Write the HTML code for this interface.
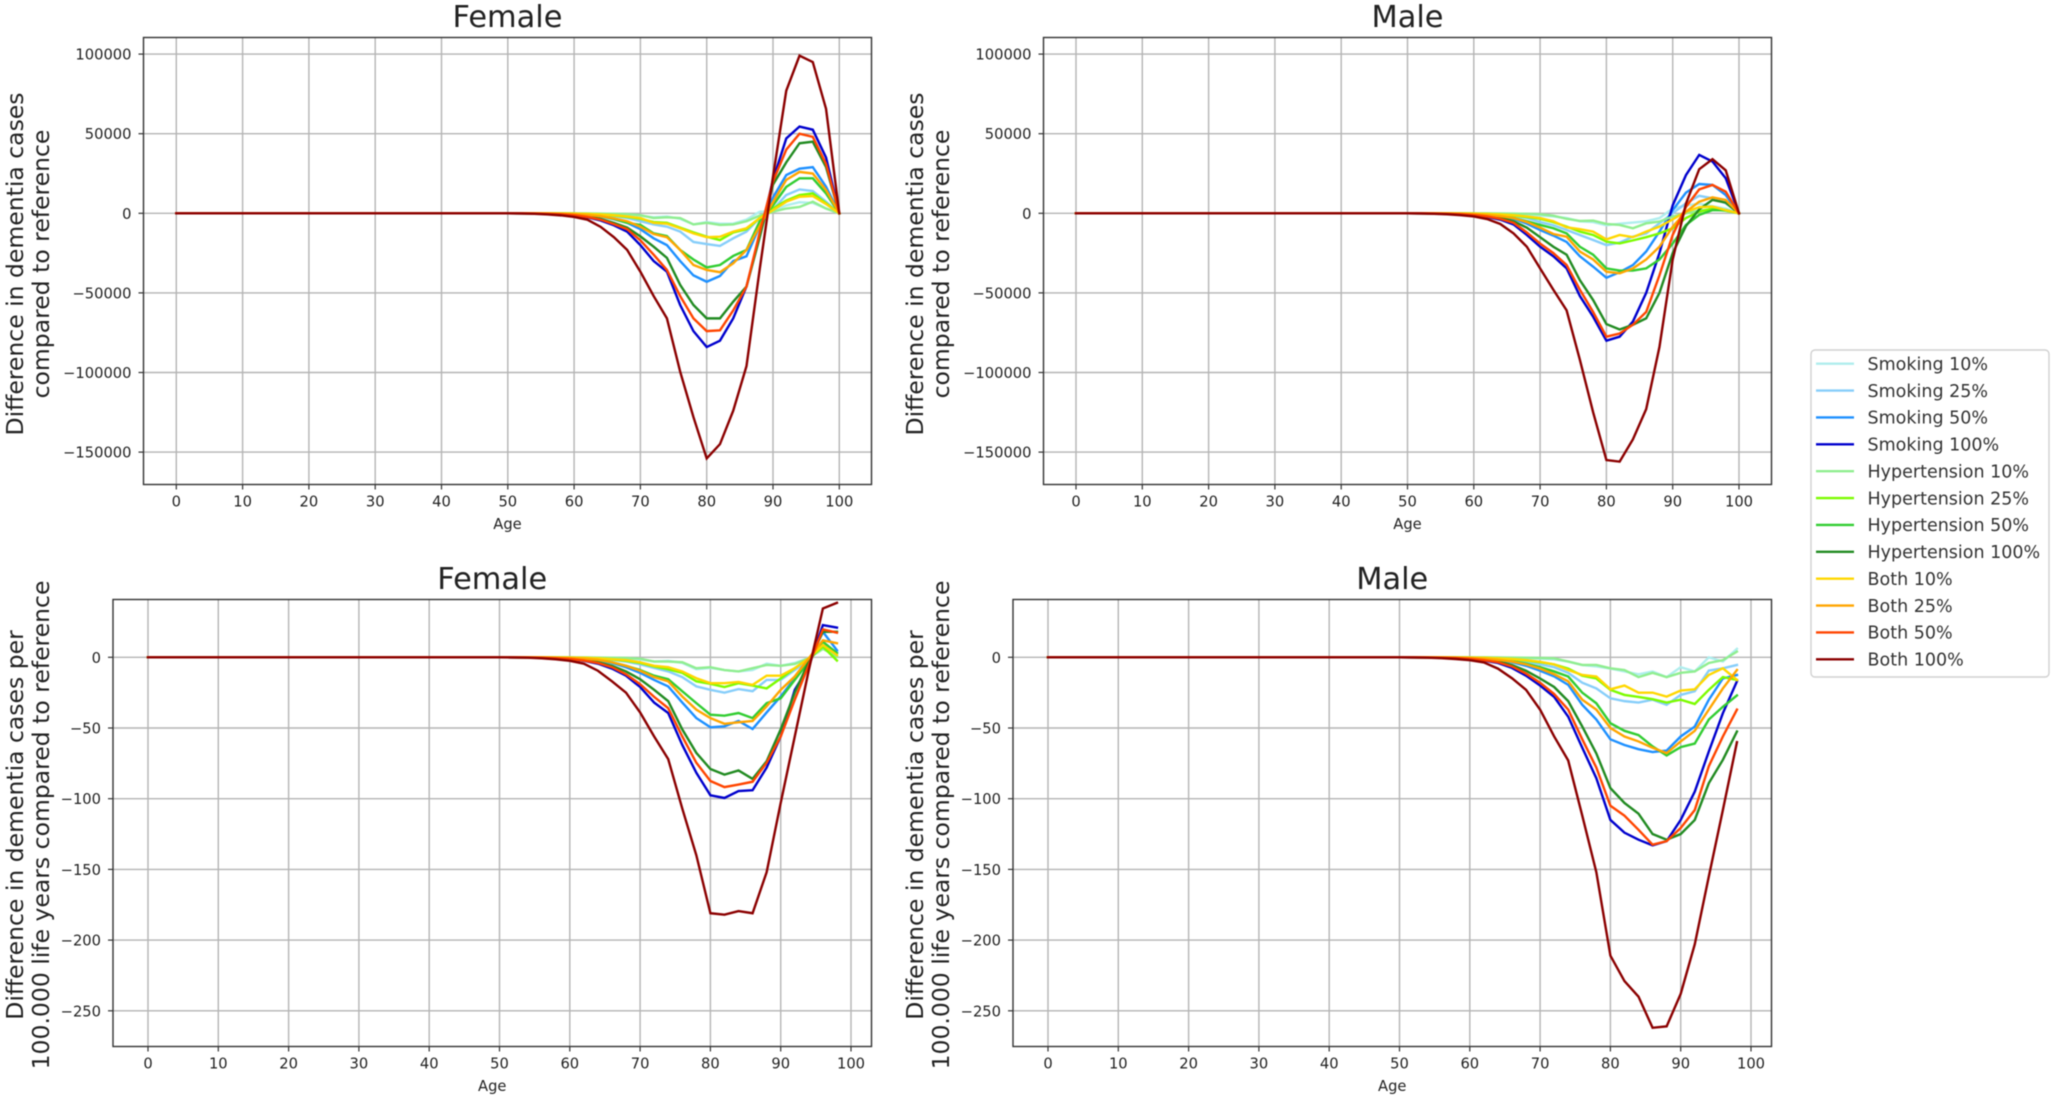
<!DOCTYPE html>
<html lang="en">
<head>
<meta charset="utf-8">
<title>Dementia cases compared to reference</title>
<style>
html,body{margin:0;padding:0;background:#fff;width:2056px;height:1098px;overflow:hidden}
svg{display:block;filter:blur(0.5px)}
text{font-family:"DejaVu Sans","Liberation Sans",sans-serif;fill:#222}
</style>
</head>
<body>
<svg id="figure" xmlns="http://www.w3.org/2000/svg" width="2056" height="1098" viewBox="0 0 2056 1098"></svg>
<script>
// ---------- shared categories and labels ----------
const agesTotal = [0,50,52,54,56,58,60,62,64,66,68,70,72,74,76,78,80,82,84,86,88,90,92,94,96,98,100];
const agesRate  = [0,50,52,54,56,58,60,62,64,66,68,70,72,74,76,78,80,82,84,86,88,90,92,94,96,98];
const xTickValues = [0,10,20,30,40,50,60,70,80,90,100];
const yTicksTotal = [100000,50000,0,-50000,-100000,-150000];
const yTicksRate  = [0,-50,-100,-150,-200,-250];
const seriesLabels = ["Smoking 10%","Smoking 25%","Smoking 50%","Smoking 100%","Hypertension 10%","Hypertension 25%","Hypertension 50%","Hypertension 100%","Both 10%","Both 25%","Both 50%","Both 100%"];
const seriesColors = ["#afeeee","#87cefa","#1e90ff","#0000cd","#90ee90","#7cfc00","#32cd32","#228b22","#ffd700","#ffa500","#ff4500","#8b0000"];
const totalUnit = 1000; // total-panel series are written in thousands of cases
const rateUnit = 1;

// ---------- Female, total difference (thousands of cases) ----------
const femaleTotalSmoking10 = [0,0,0,0,0,-.05,-.1,-.15,-.25,-.4,-.7,-1.5,-2.5,-2,-3.5,-7,-5.5,-6.5,-6.5,-4,1,1.3,5,7,6.5,3,0];
const femaleTotalSmoking25 = [0,0,0,-.02,-.05,-.15,-.3,-.5,-1,-1.8,-3,-5,-7,-8.4,-11.5,-18,-19.3,-20.5,-15.7,-11.5,-3,2.5,11.5,15,14,7.3,0];
const femaleTotalSmoking50 = [0,0,-.02,-.05,-.1,-.3,-.6,-1.1,-2,-3.7,-6,-10,-15.7,-20,-30,-39,-43,-39.4,-30,-27,-8,10,24,28,29,16.7,0];
const femaleTotalSmoking100 = [0,0,-.05,-.1,-.3,-.7,-1.3,-2.5,-4.5,-7.5,-11.5,-20,-30,-36.7,-57.6,-74,-84,-80,-66,-46,-14,21,47,54.5,52.5,35,0];
const femaleTotalHyper10 = [0,0,0,0,0,-.05,-.05,-.1,-.2,-.3,-.5,-1.2,-3,-2.5,-3,-7,-6,-7.3,-7,-5,-1.5,1,3,4,7.3,3,0];
const femaleTotalHyper25 = [0,0,0,-.02,-.05,-.1,-.2,-.4,-.8,-1.4,-2.3,-3.5,-5.5,-6,-9,-12,-14.7,-16.8,-12,-10,-3,3,8,11.5,12.5,6.3,0];
const femaleTotalHyper50 = [0,0,-.02,-.05,-.1,-.25,-.5,-1,-1.8,-3.5,-6,-7.3,-12.6,-14.3,-23,-29,-34,-32.5,-26.8,-23,-5,5,16.6,22,22,12.5,0];
const femaleTotalHyper100 = [0,0,-.05,-.1,-.2,-.5,-1,-2,-3.5,-6,-9,-14.5,-21,-28,-45,-57.6,-66,-66,-55.5,-46,-15,18,32,44,45,29,0];
const femaleTotalBoth10 = [0,0,0,0,-.05,-.1,-.2,-.4,-.7,-1.2,-2,-3,-6,-6.5,-9.4,-12.6,-15,-14.7,-11.5,-9.4,-3,2,7.3,10.4,10.8,5.8,0];
const femaleTotalBoth25 = [0,0,-.02,-.05,-.1,-.3,-.5,-1,-1.8,-3.2,-5,-8.5,-13,-15,-23,-32.5,-35.6,-37,-31.4,-23,-8,7,21,26,25,14.6,0];
const femaleTotalBoth50 = [0,0,-.05,-.1,-.3,-.6,-1.2,-2.3,-4,-6.8,-10,-17,-26,-35.6,-52,-66,-74,-73.5,-61,-46,-12,20,40,50,48,31,0];
const femaleTotalBoth100 = [0,0,-.1,-.3,-.7,-1.3,-2.3,-4,-8.5,-15,-23,-36.7,-52,-66,-99.5,-128,-154,-145,-124,-96,-35,23,77,99,95,65.6,0];

// ---------- Male, total difference (thousands of cases) ----------
const maleTotalSmoking10 = [0,0,0,0,0,-.05,-.1,-.15,-.3,-.5,-.8,-1.4,-2,-3,-5,-5.5,-7.5,-6.5,-5.8,-5,-3,3,5,6,4.5,3,0];
const maleTotalSmoking25 = [0,0,0,-.02,-.05,-.15,-.3,-.5,-1,-1.7,-3,-5.5,-7.5,-10.5,-13.6,-16.8,-20,-18.4,-14.7,-12.6,-6.3,0,6.3,11,9.4,6.3,0];
const maleTotalSmoking50 = [0,0,-.02,-.05,-.1,-.3,-.6,-1.1,-2,-3.5,-6.5,-10.5,-14,-18,-27,-33.5,-40.5,-37,-32.5,-24,-11.5,2,13,18.4,17.8,11.5,0];
const maleTotalSmoking100 = [0,0,-.05,-.1,-.3,-.6,-1.2,-2.3,-4,-7,-13.6,-21,-27,-34.6,-52,-65,-80,-77.5,-68,-50,-25,5,24,36.7,32.5,22,0];
const maleTotalHyper10 = [0,0,0,0,0,-.02,-.03,-.05,-.1,-.2,-.3,-.6,-1.5,-3.5,-4.8,-4.6,-6.7,-7.3,-9.4,-6.3,-5.2,-2,0,1.7,2.5,1.5,0];
const maleTotalHyper25 = [0,0,0,-.02,-.05,-.1,-.2,-.4,-.8,-1.4,-2.4,-3.5,-5.5,-8.4,-11.5,-13.6,-17.8,-18.9,-17,-15,-12.6,-9.4,-3,1,3,1.7,0];
const maleTotalHyper50 = [0,0,-.02,-.05,-.1,-.25,-.5,-1,-1.8,-3,-5,-7.3,-9.4,-12.6,-21,-26,-34.6,-36,-36,-34.6,-29,-19,-7.3,-1,2,2,0];
const maleTotalHyper100 = [0,0,-.05,-.1,-.2,-.4,-.9,-1.7,-3,-5,-9,-15,-21,-26,-42,-54.5,-69.6,-73,-70,-66,-50,-25,-8,2.5,8.4,6.7,0];
const maleTotalBoth10 = [0,0,0,0,-.05,-.1,-.2,-.4,-.7,-1.2,-2,-3,-5,-8.8,-10,-11.5,-16.4,-13.6,-15,-11.5,-8.4,-3.8,1,3.8,4.2,2,0];
const maleTotalBoth25 = [0,0,-.02,-.05,-.1,-.3,-.5,-1,-1.8,-3,-5.5,-9,-13,-14.7,-24,-29,-36.7,-37.7,-34.6,-29,-21,-8.4,1,7.3,10,8.4,0];
const maleTotalBoth50 = [0,0,-.05,-.1,-.3,-.5,-1.1,-2,-3.5,-6,-12,-19,-25,-32.5,-48,-62,-77.5,-75.5,-70,-62,-39,-13.6,4,15,17.8,13.6,0];
const maleTotalBoth100 = [0,0,-.1,-.3,-.6,-1.2,-2,-3.6,-6.7,-12.6,-21,-34.6,-48,-61,-92,-125,-155,-156,-142,-123,-84,-29,6,27.7,34,27,0];

// ---------- Female, per 100.000 life years ----------
const femaleRateSmoking10 = [0,0,0,0,0,-.05,-.1,-.15,-.3,-.5,-.8,-1.5,-3,-2.5,-4,-8.5,-7.5,-9,-10,-9,-4.5,-6,-4,-.5,7,3];
const femaleRateSmoking25 = [0,0,0,-.02,-.05,-.15,-.3,-.5,-1,-1.8,-3,-5,-7.5,-10,-14,-20.6,-23,-25,-22.5,-24,-16,-16,-9,-2,8.7,4];
const femaleRateSmoking50 = [0,0,-.02,-.05,-.1,-.3,-.6,-1.1,-2,-4,-7,-11,-16,-20.6,-32,-43,-49.5,-48.8,-45,-50.7,-39,-27.7,-14.8,-3,18,5];
const femaleRateSmoking100 = [0,0,-.05,-.1,-.3,-.7,-1.3,-2.5,-4.5,-8,-13,-21,-32,-39.4,-62,-81.7,-97.6,-99.5,-94.6,-94,-78,-56,-23,-6.6,22.8,21];
const femaleRateHyper10 = [0,0,0,0,0,-.02,-.05,-.1,-.2,-.3,-.5,-1,-3,-3,-3.5,-7.7,-7,-9,-10,-7.7,-5.4,-6,-4.7,-.7,6,.5];
const femaleRateHyper25 = [0,0,0,-.02,-.05,-.1,-.2,-.4,-.8,-1.5,-2.5,-4,-6.5,-8.5,-11,-17,-18.8,-21,-18.3,-20,-22,-15,-7.7,-.7,7.5,-2.3];
const femaleRateHyper50 = [0,0,-.02,-.05,-.1,-.25,-.5,-1,-1.8,-3.5,-6,-9,-13,-15.5,-24,-32.4,-40.6,-41.3,-39.4,-43,-32.4,-29,-16,-3,11,3];
const femaleRateHyper100 = [0,0,-.05,-.1,-.2,-.5,-1,-2,-3.5,-6,-10,-15.5,-23,-31,-51,-67.6,-79,-83,-80,-86,-73.5,-51,-25,-3,18,18];
const femaleRateBoth10 = [0,0,0,0,-.05,-.1,-.2,-.4,-.7,-1.3,-2,-3.5,-6,-7,-10,-14.8,-18.3,-18.3,-17.4,-19.5,-13,-13,-7.7,-.7,8.7,1.6];
const femaleRateBoth25 = [0,0,-.02,-.05,-.1,-.3,-.5,-1,-1.8,-3.5,-6,-9.5,-14,-17,-27.7,-37,-43,-47,-46,-45,-34.7,-23,-13.6,-.7,12,10];
const femaleRateBoth50 = [0,0,-.05,-.1,-.3,-.6,-1.2,-2.3,-4,-7,-12,-19,-28,-36,-56,-74.6,-87.5,-91.8,-90,-88,-74.6,-56,-30,-5.4,19.7,17.4];
const femaleRateBoth100 = [0,0,-.1,-.3,-.7,-1.4,-2.5,-4.5,-9.5,-17,-25,-39,-56,-72,-107,-140,-181,-182,-179.5,-181,-152,-103,-56,-9,34.5,38.5];

// ---------- Male, per 100.000 life years ----------
const maleRateSmoking10 = [0,0,0,0,0,-.02,-.05,-.1,-.2,-.4,-.7,-1,-1.5,-3,-5.5,-6.5,-8,-10,-12,-10,-14,-7,-10,0,-3,6];
const maleRateSmoking25 = [0,0,0,-.02,-.05,-.15,-.3,-.5,-1,-1.7,-3,-5,-7,-11,-18,-22,-29,-31,-32,-30,-33.6,-26.6,-24,-9.4,-7.8,-5.4];
const maleRateSmoking50 = [0,0,-.02,-.05,-.1,-.3,-.6,-1.1,-2,-3.5,-6,-9.5,-13.5,-19.5,-33.6,-44,-58,-62,-65,-67,-66,-56,-49,-30,-15,-12.5];
const maleRateSmoking100 = [0,0,-.05,-.1,-.3,-.6,-1.2,-2.3,-4,-7.5,-13,-20,-28,-42,-64,-85.5,-115,-124,-129,-133,-130,-115,-95,-66.6,-39.5,-17];
const maleRateHyper10 = [0,0,0,0,0,-.01,-.02,-.05,-.1,-.2,-.3,-.5,-.7,-3,-5.4,-5.4,-7.8,-9,-14,-11,-14,-11,-10,-4,-2,4];
const maleRateHyper25 = [0,0,0,-.02,-.05,-.1,-.2,-.4,-.8,-1.4,-2.3,-3.5,-5,-8,-13,-15,-23,-26.6,-28,-29.6,-32,-30,-33,-23,-14,-16];
const maleRateHyper50 = [0,0,-.02,-.05,-.1,-.25,-.5,-.9,-1.6,-2.8,-4.5,-7,-10,-13.6,-25,-32.5,-46.6,-52,-55,-63,-69.4,-63.5,-61,-44,-35,-27];
const maleRateHyper100 = [0,0,-.05,-.1,-.2,-.4,-.9,-1.7,-3,-5.5,-9.5,-15,-21,-31,-49,-68,-92.5,-103,-110.6,-125,-129,-125,-115,-89,-72.5,-52.5];
const maleRateBoth10 = [0,0,0,0,-.05,-.1,-.2,-.4,-.7,-1.2,-2,-3.2,-5,-9,-12.5,-13.6,-22.6,-20,-25,-25,-27.8,-23.5,-22.6,-12.5,-7.8,-16];
const maleRateBoth25 = [0,0,-.02,-.05,-.1,-.3,-.5,-1,-1.8,-3,-5,-8,-12,-17,-30,-37,-50,-56,-59.5,-64,-67.8,-59.5,-52,-37,-22,-9];
const maleRateBoth50 = [0,0,-.05,-.1,-.3,-.5,-1.1,-2,-3.5,-6.5,-11.5,-18,-26,-37,-58,-78,-105,-112,-122,-132.5,-130,-120.7,-108,-77,-56,-37];
const maleRateBoth100 = [0,0,-.1,-.3,-.6,-1.2,-2,-3.6,-8,-14.8,-23,-37,-56,-73,-112,-152,-211,-229,-240,-262,-261,-238,-203,-155,-108,-60];

const femaleTotalSeries = [femaleTotalSmoking10,femaleTotalSmoking25,femaleTotalSmoking50,femaleTotalSmoking100,femaleTotalHyper10,femaleTotalHyper25,femaleTotalHyper50,femaleTotalHyper100,femaleTotalBoth10,femaleTotalBoth25,femaleTotalBoth50,femaleTotalBoth100];
const maleTotalSeries = [maleTotalSmoking10,maleTotalSmoking25,maleTotalSmoking50,maleTotalSmoking100,maleTotalHyper10,maleTotalHyper25,maleTotalHyper50,maleTotalHyper100,maleTotalBoth10,maleTotalBoth25,maleTotalBoth50,maleTotalBoth100];
const femaleRateSeries = [femaleRateSmoking10,femaleRateSmoking25,femaleRateSmoking50,femaleRateSmoking100,femaleRateHyper10,femaleRateHyper25,femaleRateHyper50,femaleRateHyper100,femaleRateBoth10,femaleRateBoth25,femaleRateBoth50,femaleRateBoth100];
const maleRateSeries = [maleRateSmoking10,maleRateSmoking25,maleRateSmoking50,maleRateSmoking100,maleRateHyper10,maleRateHyper25,maleRateHyper50,maleRateHyper100,maleRateBoth10,maleRateBoth25,maleRateBoth50,maleRateBoth100];

const svg = document.getElementById('figure');
const NS = 'http://www.w3.org/2000/svg';

function make(parent, tag, attrs, content) {
  const el = document.createElementNS(NS, tag);
  for (const k in attrs) el.setAttribute(k, attrs[k]);
  if (content !== undefined) el.textContent = content;
  parent.appendChild(el);
  return el;
}
function slug(s) {
  return s.toLowerCase().replace('%', '').replace(/\s+/g, '-');
}
function fmtTick(v) {
  return v < 0 ? '\u2212' + Math.abs(v) : String(v);
}

function drawPanel(cfg) {
  const g = make(svg, 'g', {});
  
  

  // axis functions: data value -> pixel
  const xScale = v => cfg.x0 + v * cfg.xPerUnit;
  const yScale = v => cfg.y0 - v * cfg.yPerUnit;

  // gridlines and ticks
  cfg.xTicks.forEach(v => {
    const px = xScale(v);
    const grid = make(g, 'line', {x1:px, x2:px, y1:cfg.top, y2:cfg.bottom, stroke:'#b4b4b4', 'stroke-width':1.4});
    
    
    const tick = make(g, 'line', {x1:px, x2:px, y1:cfg.bottom, y2:cfg.bottom + 5, stroke:'#333', 'stroke-width':1.2});
    
    
    const label = make(g, 'text', {x:px, y:cfg.bottom + 17.5, 'text-anchor':'middle', 'dominant-baseline':'central', 'font-size':14.7}, fmtTick(v));
    
    
  });
  cfg.yTicks.forEach(v => {
    const py = yScale(v);
    const grid = make(g, 'line', {x1:cfg.left, x2:cfg.right, y1:py, y2:py, stroke:'#b4b4b4', 'stroke-width':1.4});
    
    
    const tick = make(g, 'line', {x1:cfg.left - 5, x2:cfg.left, y1:py, y2:py, stroke:'#333', 'stroke-width':1.2});
    
    
    const label = make(g, 'text', {x:cfg.left - 12, y:py + 1, 'text-anchor':'end', 'dominant-baseline':'central', 'font-size':14.7}, fmtTick(v));
    
    
  });

  // series, drawn from the data arrays through the axis functions
  cfg.series.forEach((values, i) => {
    const pts = values.map((v, j) => xScale(cfg.ages[j]).toFixed(2) + ',' + yScale(v * cfg.unit).toFixed(2)).join(' ');
    const line = make(g, 'polyline', {points:pts, fill:'none', stroke:seriesColors[i], 'stroke-width':2.4, 'stroke-linejoin':'miter', 'stroke-linecap':'square'});
    
    
  });

  // frame
  const frame = make(g, 'rect', {x:cfg.left, y:cfg.top, width:cfg.right - cfg.left, height:cfg.bottom - cfg.top, fill:'none', stroke:'#333', 'stroke-width':1.4});
  
  

  // texts
  const cx = (cfg.left + cfg.right) / 2;
  const title = make(g, 'text', {x:cx, y:cfg.top - 20, 'text-anchor':'middle', 'dominant-baseline':'central', 'font-size':30.4}, cfg.title);
  
  
  const xTitle = make(g, 'text', {x:cx, y:cfg.bottom + 40, 'text-anchor':'middle', 'dominant-baseline':'central', 'font-size':14.7}, 'Age');
  
  
  cfg.yLabel.forEach((txt, i) => {
    const px = cfg.yLabelX + i * 26;
    const t = make(g, 'text', {x:px, y:cfg.yLabelY, 'text-anchor':'middle', 'dominant-baseline':'central', 'font-size':23.5, transform:'rotate(-90 ' + px + ' ' + cfg.yLabelY + ')'}, txt);
    
    
  });
}

const totalLabel = ['Difference in dementia cases', 'compared to reference'];
const rateLabel = ['Difference in dementia cases per', '100.000 life years compared to reference'];

drawPanel({name:'female-total-panel', title:'Female', ages:agesTotal, series:femaleTotalSeries, unit:totalUnit, xTicks:xTickValues, yTicks:yTicksTotal,
  left:143.5, right:871.5, top:37.5, bottom:484.5, x0:176.3, xPerUnit:6.63, y0:213.3, yPerUnit:79.6/50000,
  yLabel:totalLabel, yLabelX:15, yLabelY:264});
drawPanel({name:'male-total-panel', title:'Male', ages:agesTotal, series:maleTotalSeries, unit:totalUnit, xTicks:xTickValues, yTicks:yTicksTotal,
  left:1043.5, right:1771.5, top:37.5, bottom:484.5, x0:1076, xPerUnit:6.63, y0:213.3, yPerUnit:79.6/50000,
  yLabel:totalLabel, yLabelX:915, yLabelY:264});
drawPanel({name:'female-rate-panel', title:'Female', ages:agesRate, series:femaleRateSeries, unit:rateUnit, xTicks:xTickValues, yTicks:yTicksRate,
  left:113, right:871.5, top:599.5, bottom:1046.5, x0:148, xPerUnit:7.03, y0:657.3, yPerUnit:70.7/50,
  yLabel:rateLabel, yLabelX:15, yLabelY:825});
drawPanel({name:'male-rate-panel', title:'Male', ages:agesRate, series:maleRateSeries, unit:rateUnit, xTicks:xTickValues, yTicks:yTicksRate,
  left:1013, right:1771.5, top:599.5, bottom:1046.5, x0:1048, xPerUnit:7.03, y0:657.3, yPerUnit:70.7/50,
  yLabel:rateLabel, yLabelX:915, yLabelY:825});

// legend
const legend = make(svg, 'g', {});


const legendBox = make(legend, 'rect', {x:1811, y:350, width:238, height:327, rx:4, fill:'#fff', stroke:'#d0d0d0', 'stroke-width':1.4});


seriesLabels.forEach((name, i) => {
  const y = 363.7 + i * 26.87;
  const handle = make(legend, 'line', {x1:1816, x2:1854, y1:y, y2:y, stroke:seriesColors[i], 'stroke-width':2.4});
  
  
  const label = make(legend, 'text', {x:1867.5, y:y + 1.3, 'dominant-baseline':'central', 'font-size':17.5, style:'fill:#333'}, name);
  
  
});
</script>
</body>
</html>
